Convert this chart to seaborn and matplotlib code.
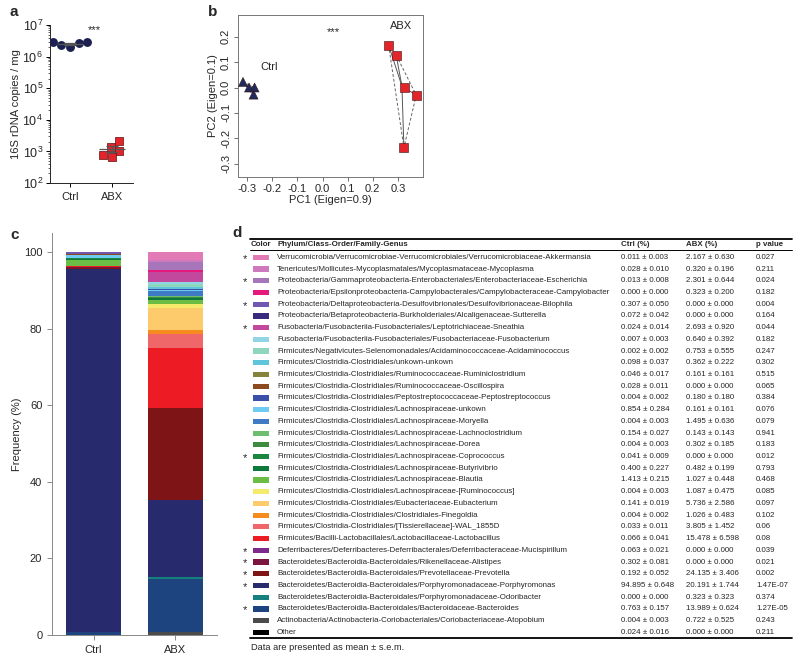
import numpy as np
import pandas as pd
import seaborn as sns
import matplotlib.pyplot as plt
from matplotlib.patches import Rectangle
from matplotlib.ticker import LogLocator, NullFormatter

# -----------------------------------------------------------
# Data
# -----------------------------------------------------------

groups = ["Ctrl", "ABX"]

# panel a: 16S rDNA copies per mg
ctrl_copies = [2.9e6, 2.6e6, 2.0e6, 2.3e6, 2.8e6]
abx_copies = [2.1e3, 1.0e3, 1.4e3, 0.65e3, 0.78e3]

# panel b: PCA scores
ctrl_pc1 = [-0.317, -0.293, -0.271, -0.275]
ctrl_pc2 = [0.022, 0.0, 0.0, -0.028]
abx_pc1 = [0.263, 0.293, 0.327, 0.373, 0.324]
abx_pc2 = [0.167, 0.128, 0.0, -0.030, -0.237]

# panel c / d: genus table (top row = top of stack)
taxa = [
    "Verrucomicrobia/Verrucomicrobiae-Verrucomicrobiales/Verrucomicrobiaceae-Akkermansia",
    "Tenericutes/Mollicutes-Mycoplasmatales/Mycoplasmataceae-Mycoplasma",
    "Proteobacteria/Gammaproteobacteria-Enterobacteriales/Enterobacteriaceae-Escherichia",
    "Proteobacteria/Epsilonproteobacteria-Campylobacterales/Campylobacteraceae-Campylobacter",
    "Proteobacteria/Deltaproteobacteria-Desulfovibrionales/Desulfovibrionaceae-Bilophila",
    "Proteobacteria/Betaproteobacteria-Burkholderiales/Alcaligenaceae-Sutterella",
    "Fusobacteria/Fusobacteriia-Fusobacteriales/Leptotrichiaceae-Sneathia",
    "Fusobacteria/Fusobacteriia-Fusobacteriales/Fusobacteriaceae-Fusobacterium",
    "Firmicutes/Negativicutes-Selenomonadales/Acidaminococcaceae-Acidaminococcus",
    "Firmicutes/Clostridia-Clostridiales/unkown-unkown",
    "Firmicutes/Clostridia-Clostridiales/Ruminococcaceae-Ruminiclostridium",
    "Firmicutes/Clostridia-Clostridiales/Ruminococcaceae-Oscillospira",
    "Firmicutes/Clostridia-Clostridiales/Peptostreptococcaceae-Peptostreptococcus",
    "Firmicutes/Clostridia-Clostridiales/Lachnospiraceae-unkown",
    "Firmicutes/Clostridia-Clostridiales/Lachnospiraceae-Moryella",
    "Firmicutes/Clostridia-Clostridiales/Lachnospiraceae-Lachnoclostridium",
    "Firmicutes/Clostridia-Clostridiales/Lachnospiraceae-Dorea",
    "Firmicutes/Clostridia-Clostridiales/Lachnospiraceae-Coprococcus",
    "Firmicutes/Clostridia-Clostridiales/Lachnospiraceae-Butyrivibrio",
    "Firmicutes/Clostridia-Clostridiales/Lachnospiraceae-Blautia",
    "Firmicutes/Clostridia-Clostridiales/Lachnospiraceae-[Ruminococcus]",
    "Firmicutes/Clostridia-Clostridiales/Eubacteriaceae-Eubacterium",
    "Firmicutes/Clostridia-Clostridiales/Clostridiales-Finegoldia",
    "Firmicutes/Clostridia-Clostridiales/[Tissierellaceae]-WAL_1855D",
    "Firmicutes/Bacilli-Lactobacillales/Lactobacillaceae-Lactobacillus",
    "Deferribacteres/Deferribacteres-Deferribacterales/Deferribacteraceae-Mucispirillum",
    "Bacteroidetes/Bacteroidia-Bacteroidales/Rikenellaceae-Alistipes",
    "Bacteroidetes/Bacteroidia-Bacteroidales/Prevotellaceae-Prevotella",
    "Bacteroidetes/Bacteroidia-Bacteroidales/Porphyromonadaceae-Porphyromonas",
    "Bacteroidetes/Bacteroidia-Bacteroidales/Porphyromonadaceae-Odoribacter",
    "Bacteroidetes/Bacteroidia-Bacteroidales/Bacteroidaceae-Bacteroides",
    "Actinobacteria/Actinobacteria-Coriobacteriales/Coriobacteriaceae-Atopobium",
    "Other",
]

tax_colors = [
    "#e27ab5", "#ce78be", "#a775ba", "#e5197c", "#7157b0", "#3a2a7e",
    "#c2489e", "#8fd5e3", "#8fd6bf", "#5fc5da", "#85843a", "#8c4a1e",
    "#3c4fa8", "#6ecbf2", "#3f7ac4", "#6dbe6e", "#3d8b3e", "#1b8640",
    "#0d7a3b", "#6bbd45", "#f4ea6b", "#fdca6c", "#f68b20", "#f0676a",
    "#ed1c24", "#7d2a8c", "#7a1540", "#7e1416", "#272a6d", "#15807e",
    "#1e4480", "#4b4b4b", "#000000",
]

ctrl_mean = [0.011, 0.028, 0.013, 0.000, 0.307, 0.072, 0.024, 0.007, 0.002,
             0.098, 0.046, 0.028, 0.004, 0.854, 0.004, 0.154, 0.004, 0.041,
             0.400, 1.413, 0.004, 0.141, 0.004, 0.033, 0.066, 0.063, 0.302,
             0.192, 94.895, 0.000, 0.763, 0.004, 0.024]
ctrl_sem = [0.003, 0.010, 0.008, 0.000, 0.050, 0.042, 0.014, 0.003, 0.002,
            0.037, 0.017, 0.011, 0.002, 0.284, 0.003, 0.027, 0.003, 0.009,
            0.227, 0.215, 0.003, 0.019, 0.002, 0.011, 0.041, 0.021, 0.081,
            0.052, 0.648, 0.000, 0.157, 0.003, 0.016]
abx_mean = [2.167, 0.320, 2.301, 0.323, 0.000, 0.000, 2.693, 0.640, 0.753,
            0.362, 0.161, 0.000, 0.180, 0.161, 1.495, 0.143, 0.302, 0.000,
            0.482, 1.027, 1.087, 5.736, 1.026, 3.805, 15.478, 0.000, 0.000,
            24.135, 20.191, 0.323, 13.989, 0.722, 0.000]
abx_sem = [0.630, 0.196, 0.644, 0.200, 0.000, 0.000, 0.920, 0.392, 0.555,
           0.222, 0.161, 0.000, 0.180, 0.161, 0.636, 0.143, 0.185, 0.000,
           0.199, 0.448, 0.475, 2.586, 0.483, 1.452, 6.598, 0.000, 0.000,
           3.406, 1.744, 0.323, 0.624, 0.525, 0.000]
p_values = ["0.027", "0.211", "0.024", "0.182", "0.004", "0.164", "0.044",
            "0.182", "0.247", "0.302", "0.515", "0.065", "0.384", "0.076",
            "0.079", "0.941", "0.183", "0.012", "0.793", "0.468", "0.085",
            "0.097", "0.102", "0.06", "0.08", "0.039", "0.021", "0.002",
            "1.47E-07", "0.374", "1.27E-05", "0.243", "0.211"]
significant = [1, 0, 1, 0, 1, 0, 1, 0, 0, 0, 0, 0, 0, 0, 0, 0, 0, 1, 0, 0, 0,
               0, 0, 0, 0, 1, 1, 1, 1, 0, 1, 0, 0]

# -----------------------------------------------------------
# Style
# -----------------------------------------------------------

sns.set_style("ticks")
plt.rcParams["font.family"] = ["Liberation Sans", "DejaVu Sans"]
plt.rcParams["axes.unicode_minus"] = False
plt.rcParams["mathtext.fontset"] = "custom"
plt.rcParams["mathtext.rm"] = "Liberation Sans"
plt.rcParams["mathtext.it"] = "Liberation Sans:italic"
plt.rcParams["mathtext.bf"] = "Liberation Sans:bold"

W, H = 800, 665
fig = plt.figure(figsize=(8, 6.65), dpi=100)


def px_axes(left, top, right, bottom):
    return fig.add_axes([left / W, 1 - bottom / H, (right - left) / W, (bottom - top) / H])


# -----------------------------------------------------------
# a: 16S copies
# -----------------------------------------------------------

ax_a = px_axes(50, 25, 133, 183)
df_a = pd.DataFrame({
    "group": ["Ctrl"] * len(ctrl_copies) + ["ABX"] * len(abx_copies),
    "copies": ctrl_copies + abx_copies,
})
ax_a.set_yscale("log")
sns.swarmplot(data=df_a[df_a.group == "Ctrl"], x="group", y="copies", order=groups,
              color="#1b2050", size=6.4, marker="o", linewidth=0,
              log_scale=True, ax=ax_a, zorder=3, warn_thresh=1)
sns.swarmplot(data=df_a[df_a.group == "ABX"], x="group", y="copies", order=groups,
              color="#e3242b", size=6, marker="s", edgecolor="#5a1010", linewidth=0.5,
              log_scale=True, ax=ax_a, zorder=3, warn_thresh=1)

for i, g in enumerate(groups):
    vals = np.array(df_a.loc[df_a.group == g, "copies"])
    m = vals.mean()
    s = vals.std(ddof=1) / np.sqrt(len(vals))
    ax_a.hlines(m, i - 0.3, i + 0.3, color="#555555", lw=0.9, zorder=4)
    ax_a.vlines(i, m - s, m + s, color="#555555", lw=0.9, zorder=4)
    ax_a.hlines([m - s, m + s], i - 0.15, i + 0.15, color="#555555", lw=0.9, zorder=4)

ax_a.set_ylim(1e2, 1e7)
ax_a.set_xlim(-0.48, 1.5)
ax_a.yaxis.set_major_locator(LogLocator(base=10, numticks=10))
ax_a.yaxis.set_minor_locator(LogLocator(base=10, subs=np.arange(2, 10), numticks=20))
ax_a.yaxis.set_minor_formatter(NullFormatter())
ax_a.tick_params(axis="x", labelsize=8, length=3, width=0.7, color="black")
ax_a.tick_params(axis="y", labelsize=9, length=3, width=0.7, color="black", pad=2)
ax_a.tick_params(axis="y", which="minor", length=1.8, width=0.5)
ax_a.set_xlabel("")
ax_a.set_ylabel("16S rDNA copies / mg", fontsize=8, labelpad=1)
ax_a.text(0.57, 7e6, "***", ha="center", va="center", fontsize=8)
sns.despine(ax=ax_a)
for sp in ax_a.spines.values():
    sp.set_linewidth(0.7)

# -----------------------------------------------------------
# b: PCA
# -----------------------------------------------------------


def hull(points):
    pts = sorted(set(points))
    if len(pts) < 3:
        return pts

    def cross(o, a, b):
        return (a[0] - o[0]) * (b[1] - o[1]) - (a[1] - o[1]) * (b[0] - o[0])

    lower, upper = [], []
    for p in pts:
        while len(lower) >= 2 and cross(lower[-2], lower[-1], p) <= 0:
            lower.pop()
        lower.append(p)
    for p in reversed(pts):
        while len(upper) >= 2 and cross(upper[-2], upper[-1], p) <= 0:
            upper.pop()
        upper.append(p)
    return lower[:-1] + upper[:-1]


ax_b = px_axes(238, 15, 423, 177)
df_b = pd.DataFrame({
    "group": ["Ctrl"] * len(ctrl_pc1) + ["ABX"] * len(abx_pc1),
    "PC1": ctrl_pc1 + abx_pc1,
    "PC2": ctrl_pc2 + abx_pc2,
})

for g in groups:
    sub = df_b[df_b.group == g]
    cx, cy = sub.PC1.mean(), sub.PC2.mean()
    for x, y in zip(sub.PC1, sub.PC2):
        ax_b.plot([cx, x], [cy, y], color="#555555", lw=0.7, zorder=1)
    h = hull(list(zip(sub.PC1, sub.PC2)))
    h = h + h[:1]
    ax_b.plot([p[0] for p in h], [p[1] for p in h], color="#666666", lw=0.7,
              ls=(0, (3, 2)), zorder=1)

sns.scatterplot(data=df_b, x="PC1", y="PC2", hue="group", style="group",
                markers={"Ctrl": "^", "ABX": "s"},
                palette={"Ctrl": "#1f2a5e", "ABX": "#e3242b"},
                s=42, edgecolor="#3a1010", linewidth=0.4, legend=False, ax=ax_b, zorder=3)

ax_b.set_xlim(-0.337, 0.40)
ax_b.set_ylim(-0.353, 0.286)
ax_b.set_xticks([-0.3, -0.2, -0.1, 0.0, 0.1, 0.2, 0.3])
ax_b.set_yticks([-0.3, -0.2, -0.1, 0.0, 0.1, 0.2])
ax_b.set_xticklabels(["-0.3", "-0.2", "-0.1", "0.0", "0.1", "0.2", "0.3"])
ax_b.set_yticklabels(["-0.3", "-0.2", "-0.1", "0.0", "0.1", "0.2"], rotation=90, va="center")
ax_b.tick_params(labelsize=8, length=3, width=0.6, color="#555555", pad=2)
ax_b.set_xlabel("PC1 (Eigen=0.9)", fontsize=8, labelpad=1)
ax_b.set_ylabel("PC2 (Eigen=0.1)", fontsize=8, labelpad=2)
for sp in ax_b.spines.values():
    sp.set_color("#777777")
    sp.set_linewidth(0.7)
ax_b.text(-0.247, 0.082, "Ctrl", fontsize=8, ha="left", va="center")
ax_b.text(0.313, 0.242, "ABX", fontsize=8, ha="center", va="center")
ax_b.text(0.041, 0.218, "***", fontsize=8, ha="center", va="center")

# -----------------------------------------------------------
# c: stacked composition
# -----------------------------------------------------------

ax_c = px_axes(52, 233, 217, 635)
df_c = pd.DataFrame({
    "group": ["Ctrl"] * len(taxa) + ["ABX"] * len(taxa),
    "taxon": taxa + taxa,
    "value": ctrl_mean + abx_mean,
})
sns.histplot(data=df_c, x="group", weights="value", hue="taxon", hue_order=taxa,
             palette=dict(zip(taxa, tax_colors)), multiple="stack", discrete=True,
             shrink=0.675, linewidth=0, alpha=1, legend=False, ax=ax_c)
ax_c.set_xlim(-0.51, 1.515)
ax_c.set_ylim(0, 105)
ax_c.set_yticks([0, 20, 40, 60, 80, 100])
ax_c.set_xticks([0, 1])
ax_c.set_xticklabels(groups)
ax_c.set_xlabel("")
ax_c.set_ylabel("Frequency (%)", fontsize=8, labelpad=1)
ax_c.tick_params(labelsize=8, length=3.5, width=0.6, color="#777777")
sns.despine(ax=ax_c)
for sp in ax_c.spines.values():
    sp.set_color("#888888")
    sp.set_linewidth(0.7)

# -----------------------------------------------------------
# d: table
# -----------------------------------------------------------

tab = fig.add_axes([0, 0, 1, 1], facecolor="none")
tab.set_xlim(0, W)
tab.set_ylim(H, 0)
tab.axis("off")

fs = 5.7
row0, dy = 257.3, 11.72
x_star, x_sw, x_txt, x_ctrl, x_abx, x_p = 245, 253, 277, 621, 686, 756

tab.plot([250, 792], [239, 239], color="black", lw=1.3)
tab.plot([250, 792], [249.5, 249.5], color="black", lw=0.7)
hdr_y = 244.5
for x, t in [(251, "Color"), (x_txt, "Phylum/Class-Order/Family-Genus"),
             (x_ctrl, "Ctrl (%)"), (x_abx, "ABX (%)"), (x_p, "p value")]:
    tab.text(x, hdr_y, t, fontsize=fs, fontweight="bold", ha="left", va="center")

for i, name in enumerate(taxa):
    y = row0 + i * dy
    tab.add_patch(Rectangle((x_sw, y - 2.6), 16, 5.2, facecolor=tax_colors[i],
                            edgecolor="none"))
    if significant[i]:
        tab.text(x_star, y + 1.5, "*", fontsize=8, ha="center", va="center")
    tab.text(x_txt, y, name, fontsize=fs, ha="left", va="center")
    tab.text(x_ctrl, y, f"{ctrl_mean[i]:.3f} \u00b1 {ctrl_sem[i]:.3f}", fontsize=fs,
             ha="left", va="center")
    tab.text(x_abx, y, f"{abx_mean[i]:.3f} \u00b1 {abx_sem[i]:.3f}", fontsize=fs,
             ha="left", va="center")
    tab.text(x_p, y, p_values[i], fontsize=fs, ha="left", va="center")

y_end = row0 + (len(taxa) - 1) * dy + 5.5
tab.plot([250, 792], [y_end, y_end], color="black", lw=1.3)
tab.text(251, 648, "Data are presented as mean \u00b1 s.e.m.", fontsize=6.7,
         ha="left", va="center")

# panel letters
for x, y, t in [(10, 12, "a"), (208, 12, "b"), (10, 235, "c"), (232, 233, "d")]:
    tab.text(x, y, t, fontsize=11, fontweight="bold", ha="left", va="center")

plt.savefig("out.png", dpi=100)
plt.close()
